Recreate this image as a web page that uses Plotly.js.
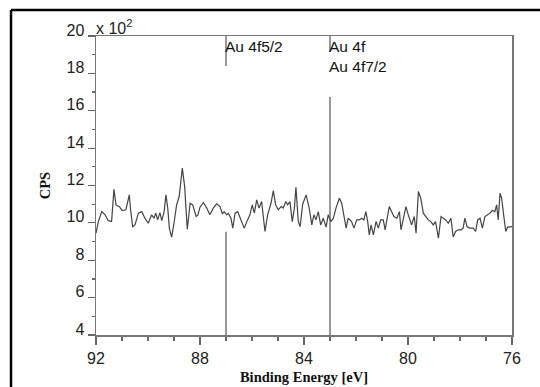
<!DOCTYPE html>
<html>
<head>
<meta charset="utf-8">
<script src="https://cdn.plot.ly/plotly-3.0.1.min.js"></script>
<style>html,body{margin:0;padding:0;background:#fff;}#chart{width:540px;height:387px;}</style>
</head>
<body>
<div id="chart"></div>
<script>
// Binding energy [eV]
var energy = [92.00,91.91,91.78,91.65,91.53,91.40,91.31,91.23,91.10,90.99,90.85,90.72,90.67,90.59,90.50,90.37,90.24,90.12,89.99,89.86,89.77,89.70,89.63,89.54,89.47,89.38,89.31,89.24,89.18,89.09,89.00,88.90,88.80,88.68,88.59,88.49,88.38,88.28,88.15,88.08,88.00,87.87,87.74,87.62,87.49,87.36,87.23,87.14,87.07,86.97,86.91,86.81,86.74,86.65,86.55,86.42,86.30,86.17,86.08,85.99,85.91,85.82,85.73,85.63,85.56,85.50,85.40,85.27,85.18,85.09,84.99,84.88,84.80,84.70,84.63,84.54,84.45,84.37,84.31,84.22,84.15,84.05,83.92,83.80,83.70,83.62,83.54,83.45,83.36,83.26,83.15,83.07,82.97,82.87,82.77,82.64,82.55,82.46,82.38,82.30,82.17,82.08,81.97,81.88,81.78,81.70,81.62,81.55,81.49,81.42,81.33,81.23,81.14,81.05,80.95,80.88,80.80,80.72,80.63,80.54,80.43,80.33,80.27,80.18,80.08,79.99,79.92,79.86,79.76,79.69,79.60,79.51,79.41,79.32,79.22,79.12,79.03,78.94,78.83,78.73,78.64,78.55,78.45,78.35,78.26,78.17,78.07,77.96,77.88,77.81,77.73,77.63,77.49,77.40,77.32,77.23,77.14,77.04,76.94,76.85,76.76,76.66,76.59,76.53,76.46,76.40,76.33,76.24,76.17,76.07,76.00];
// CPS (x 10^2)
var cps = [9.45,10.07,10.60,10.43,10.12,10.07,11.80,10.96,10.87,10.66,10.70,11.50,10.70,9.80,9.89,10.52,10.60,10.25,9.98,10.43,10.25,10.52,10.16,10.55,10.12,10.60,11.50,10.79,9.72,9.24,9.98,10.96,11.41,12.93,11.94,9.66,11.05,10.96,10.34,10.43,10.84,11.09,10.79,10.43,10.79,11.02,10.87,10.48,10.60,10.43,10.52,10.25,9.72,10.52,10.60,10.16,9.72,10.16,10.43,10.96,10.52,11.23,10.79,11.14,10.07,9.54,10.43,11.05,11.73,10.96,10.70,10.87,10.79,11.14,10.96,11.14,10.07,10.79,11.91,10.07,9.80,11.00,11.50,10.79,9.89,10.43,10.16,10.60,9.89,10.25,9.77,10.43,10.07,10.25,10.79,11.32,11.05,10.25,9.72,10.25,10.07,9.72,10.16,10.16,10.25,10.16,10.60,10.07,9.36,9.89,9.36,10.07,9.72,10.16,10.16,9.63,10.16,10.87,10.60,10.34,10.25,10.60,9.63,10.16,10.87,10.43,10.07,9.89,10.34,9.45,11.68,11.32,10.52,10.34,10.16,10.07,9.89,10.07,9.18,10.34,10.25,10.16,9.98,10.25,9.24,9.54,9.63,9.63,9.72,10.25,9.80,9.72,9.72,9.54,10.16,10.25,9.72,10.34,10.43,10.52,10.66,10.60,10.96,10.16,11.59,11.32,10.52,9.54,9.77,9.77,9.80];
// Peak markers
var peakE = [87.0, 83.0];
var peakH = [9.52, 16.74];
var peakLabels = ["Au 4f5/2", "Au 4f<br>Au 4f7/2"];
var peakTopEnd = [18.4, 19.15];
var yTicks = [4,6,8,10,12,14,16,18,20];
var xTicks = [92,88,84,80,76];

var sans = "Liberation Sans, Arial, sans-serif";
var tickFont = {family: sans, size: 16, color: "#222"};
var titleFont = {family: "Liberation Serif, Times New Roman, serif", size: 14.5, color: "#111", weight: "bold"};

var shapes = [
  {type: "line", xref: "paper", yref: "paper", x0: -0.2043, x1: 1.2, y0: 1.087, y1: 1.087,
   line: {color: "#000", width: 2.5}},
  {type: "line", xref: "paper", yref: "paper", x0: -0.2043, x1: -0.2043, y0: -0.3, y1: 1.087,
   line: {color: "#000", width: 2.5}}
];
var annotations = [
  {xref: "paper", yref: "paper", x: -0.005, y: 1.0, xanchor: "left", yanchor: "bottom", yshift: -3,
   text: "x 10<sup style='font-size:16px'>2</sup>", showarrow: false, font: {family: sans, size: 16, color: "#222"}}
];
for (var i = 0; i < peakE.length; i++) {
  shapes.push({type: "line", xref: "x", yref: "y", x0: peakE[i], x1: peakE[i], y0: 4, y1: peakH[i],
    line: {color: "#555", width: 1.2}});
  shapes.push({type: "line", xref: "x", yref: "y", x0: peakE[i], x1: peakE[i], y0: 20, y1: peakTopEnd[i],
    line: {color: "#555", width: 1.2}});
  annotations.push({xref: "x", yref: "paper", x: peakE[i], y: 1.0, xanchor: "left", yanchor: "top",
    xshift: -3, yshift: 0, align: "left", text: peakLabels[i], showarrow: false,
    font: {family: sans, size: 15.5, color: "#111"}});
}

var data = [{x: energy, y: cps, type: "scatter", mode: "lines",
  line: {color: "#444", width: 1.2}, hoverinfo: "skip"}];

var layout = {
  width: 540, height: 387,
  margin: {l: 96, r: 28, t: 36, b: 52},
  paper_bgcolor: "#fff", plot_bgcolor: "#fff",
  showlegend: false,
  xaxis: {range: [92, 76], tickvals: xTicks, ticks: "outside", ticklen: 8, tickwidth: 1.2, tickcolor: "#666",
    minor: {dtick: 1, ticks: "outside", ticklen: 4, tickcolor: "#666", tickwidth: 1.2},
    showgrid: false, zeroline: false, showline: true, linecolor: "#777", linewidth: 1.5, mirror: true,
    tickfont: tickFont, ticklabelstandoff: 0,
    title: {text: "Binding Energy [eV]", font: titleFont, standoff: 6}},
  yaxis: {range: [4, 20], tickvals: yTicks, ticks: "outside", ticklen: 7, tickwidth: 1.2, tickcolor: "#666",
    minor: {dtick: 1, ticks: "outside", ticklen: 3, tickcolor: "#666", tickwidth: 1.2},
    showgrid: false, zeroline: false, showline: true, linecolor: "#777", linewidth: 1.5, mirror: true,
    tickfont: tickFont, ticklabelshift: -6, ticklabelstandoff: 0,
    title: {text: "CPS", font: titleFont, standoff: 12}},
  shapes: shapes,
  annotations: annotations
};
Plotly.newPlot("chart", data, layout, {displayModeBar: false, staticPlot: true});
</script>
</body>
</html>
